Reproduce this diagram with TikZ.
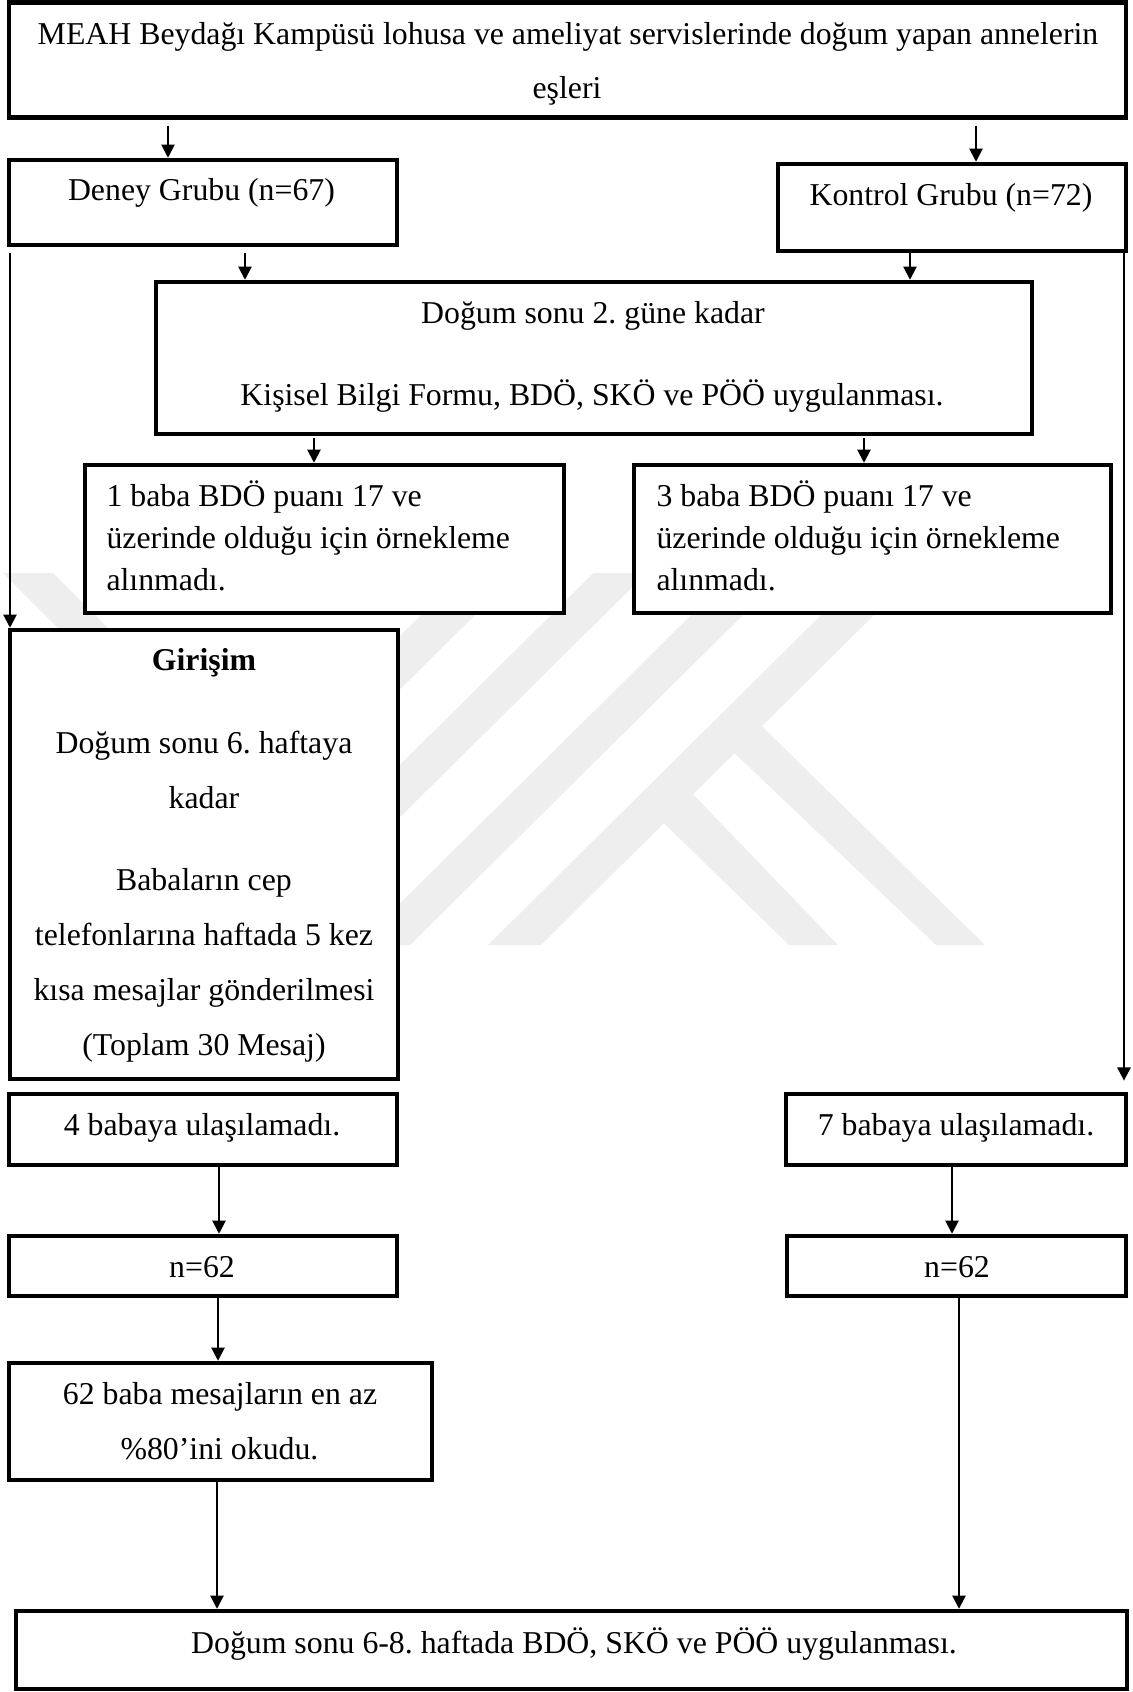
\documentclass[tikz,border=0pt]{standalone}
\usepackage{fontspec}
\setmainfont{Liberation Serif}
\usetikzlibrary{arrows.meta,fit}
\frenchspacing
\begin{document}
\begin{tikzpicture}[x=0.3774pt,y=-0.3774pt,
  box/.style={draw,line width=1.7pt,fill=white,inner sep=0pt},
  arr/.style={-{Triangle[length=5pt,width=5pt]},line width=0.75pt},
  txt/.style={inner sep=0pt,font=\fontsize{12}{14}\selectfont},
  wm/.style={fill={rgb,255:red,238;green,238;blue,238}}]
\useasboundingbox (0,0) rectangle (1132,1692);
% watermark
\fill[wm] (3,573) -- (53,573) -- (260,780) -- (210,780) -- cycle;
\fill[wm] (463.5,573) -- (517.5,573) -- (142,945) -- (88,945) -- cycle;
\fill[wm] (593.5,573) -- (646.5,573) -- (271,945) -- (218,945) -- cycle;
\fill[wm] (733.5,573) -- (785.5,573) -- (410,945) -- (358,945) -- cycle;
\fill[wm] (863.5,573) -- (916.5,573) -- (541,945) -- (488,945) -- cycle;
\fill[wm] (726,745) -- (760.7,725) -- (985,945) -- (936,945) -- cycle;
\fill[wm] (640,800) -- (689,790) -- (838,945) -- (789,945) -- cycle;
% boxes
\node[box,fit={(9,2.5) (1126,117.5)}] (top) {};
\node[box,fit={(9,160) (397,245)}] (deney) {};
\node[box,fit={(778,164) (1126,251)}] (kontrol) {};
\node[box,fit={(156,282) (1032,434)}] (dogum) {};
\node[box,fit={(85,465) (564,613)}] (bir) {};
\node[box,fit={(634,465) (1111,613)}] (uc) {};
\node[box,fit={(10,630) (398,1079)}] (giris) {};
\node[box,fit={(9,1094) (397,1165)}] (dort) {};
\node[box,fit={(786,1094) (1126,1165)}] (yedi) {};
\node[box,fit={(9,1236) (397,1296)}] (nL) {};
\node[box,fit={(787,1236) (1126,1296)}] (nR) {};
\node[box,fit={(9,1363) (432,1480)}] (alt) {};
\node[box,fit={(16,1611) (1127,1689)}] (son) {};
% texts
\node[txt,anchor=base] (t1a) at (568,44) {MEAH Beydağı Kampüsü lohusa ve ameliyat servislerinde doğum yapan annelerin};
\node[txt,anchor=base] (t1b) at (567,98) {eşleri};
\node[txt,anchor=base] (t2) at (201.5,200) {Deney Grubu (n=67)};
\node[txt,anchor=base] (t3) at (951,205) {Kontrol Grubu (n=72)};
\node[txt,anchor=base] (t4a) at (593,323) {Doğum sonu 2. güne kadar};
\node[txt,anchor=base] (t4b) at (592,405) {Kişisel Bilgi Formu, BDÖ, SKÖ ve PÖÖ uygulanması.};
\node[txt,anchor=base west] (t5a) at (106,506) {1 baba BDÖ puanı 17 ve};
\node[txt,anchor=base west] (t5b) at (106,548) {üzerinde olduğu için örnekleme};
\node[txt,anchor=base west] (t5c) at (106,590) {alınmadı.};
\node[txt,anchor=base west] (t6a) at (656,506) {3 baba BDÖ puanı 17 ve};
\node[txt,anchor=base west] (t6b) at (656,548) {üzerinde olduğu için örnekleme};
\node[txt,anchor=base west] (t6c) at (656,590) {alınmadı.};
\node[txt,anchor=base] (t7a) at (204,670) {\textbf{Girişim}};
\node[txt,anchor=base] (t7b) at (204,753) {Doğum sonu 6. haftaya};
\node[txt,anchor=base] (t7c) at (204,808) {kadar};
\node[txt,anchor=base] (t7d) at (204,890) {Babaların cep};
\node[txt,anchor=base] (t7e) at (204,945) {telefonlarına haftada 5 kez};
\node[txt,anchor=base] (t7f) at (204,1000) {kısa mesajlar gönderilmesi};
\node[txt,anchor=base] (t7g) at (204,1055) {(Toplam 30 Mesaj)};
\node[txt,anchor=base] (t8) at (202,1135) {4 babaya ulaşılamadı.};
\node[txt,anchor=base] (t9) at (956,1135) {7 babaya ulaşılamadı.};
\node[txt,anchor=base] (t10) at (202,1277) {n=62};
\node[txt,anchor=base] (t11) at (957,1277) {n=62};
\node[txt,anchor=base] (t12a) at (220,1404) {62 baba mesajların en az};
\node[txt,anchor=base] (t12b) at (219.5,1459) {\%80’ini okudu.};
\node[txt,anchor=base] (t13) at (574,1653) {Doğum sonu 6-8. haftada BDÖ, SKÖ ve PÖÖ uygulanması.};
% arrow columns
\coordinate (c1) at (168,0);
\coordinate (c2) at (976,0);
\coordinate (c3) at (245,0);
\coordinate (c4) at (910,0);
\coordinate (c5) at (314,0);
\coordinate (c6) at (864,0);
\coordinate (cL) at (10,0);
\coordinate (cR) at (1124,0);
\coordinate (c7) at (219,0);
\coordinate (c8) at (952,0);
\coordinate (c9) at (218,0);
\coordinate (c10) at (959,0);
\coordinate (c11) at (217,0);
% connectors
\draw[arr,shorten <=2.2pt] (top.south -| c1) -- (deney.north -| c1);
\draw[arr,shorten <=2.2pt] (top.south -| c2) -- (kontrol.north -| c2);
\draw[arr,shorten <=2pt] (deney.south -| c3) -- (dogum.north -| c3);
\draw[arr] (kontrol.south -| c4) -- (dogum.north -| c4);
\draw[arr,shorten <=0.8pt] (dogum.south -| c5) -- (bir.north -| c5);
\draw[arr,shorten <=0.8pt] (dogum.south -| c6) -- (uc.north -| c6);
\draw[arr,shorten <=2pt] (deney.south -| cL) -- (giris.north -| cL);
\draw[arr,shorten >=4.2pt] (kontrol.south -| cR) -- (yedi.north -| cR);
\draw[arr] (dort.south -| c7) -- (nL.north -| c7);
\draw[arr] (yedi.south -| c8) -- (nR.north -| c8);
\draw[arr] (nL.south -| c9) -- (alt.north -| c9);
\draw[arr] (nR.south -| c10) -- (son.north -| c10);
\draw[arr] (alt.south -| c11) -- (son.north -| c11);
\end{tikzpicture}
\end{document}
